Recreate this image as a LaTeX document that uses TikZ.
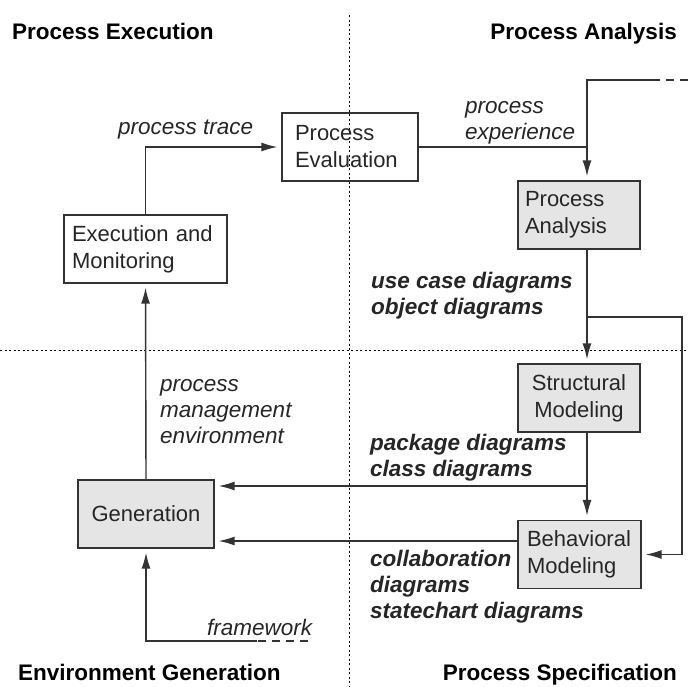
\documentclass[tikz,border=0pt]{standalone}
\usepackage{fontspec}
\setmainfont{Liberation Sans}
\usetikzlibrary{arrows.meta}
\begin{document}
\begin{tikzpicture}[x=1pt,y=-1pt,
  every node/.style={font=\fontsize{22}{27}\selectfont, inner sep=0pt, text=black!85},
  ln/.style={line width=1.4pt, draw=black!80},
  arr/.style={ln, -{Latex[length=16pt,width=9pt]}, shorten >=4pt},
  box/.style={draw=black!80, line width=1.3pt, minimum height=68pt, align=left, inner ysep=0pt},
  grey/.style={fill=black!10},
  sep/.style={line width=0.9pt, dash pattern=on 2pt off 2.5pt},
  stub/.style={ln, dash pattern=on 8pt off 6pt},
  hdr/.style={font=\fontsize{22.5}{27}\selectfont\bfseries, anchor=base west, text=black},
  lab/.style={font=\fontsize{22.5}{26}\selectfont\itshape, align=left, anchor=base west},
  blab/.style={font=\fontsize{22.5}{26}\selectfont\bfseries\itshape, align=left, anchor=base west},
]
\useasboundingbox (0,0) rectangle (688,686);
\fill[white] (0,0) rectangle (688,686);

% quadrant separators
\draw[sep] (349,15) -- (349,686);
\draw[sep] (0,350) -- (688,350);

% boxes
\node[box, inner xsep=13pt, text width=110pt] (pe) at (350,147) {Process\\Evaluation};
\node[box, inner xsep=8pt, text width=147pt] (ex) at (145.5,249) {Execution and\\Monitoring};
\node[box, grey, inner xsep=7pt, text width=108pt] (pa) at (579,215) {Process\\Analysis};
\node[box, grey, inner xsep=7pt, text width=108pt, align=center] (sm) at (579,398) {Structural\\Modeling};
\node[box, grey, inner xsep=9pt, text width=105pt] (bm) at (579.5,554.5) {Behavioral\\Modeling};
\node[box, grey, inner xsep=7pt, text width=122pt, align=center] (gen) at (146,514) {Generation};

% helper coordinates
\coordinate (colx) at (587,0);
\coordinate (rx) at (682,0);
\coordinate (topin) at (657,80);
\coordinate (topend) at (688,80);
\coordinate (br1) at (587,317);
\coordinate (br2) at (587,486);
\coordinate (fw) at (257,641);
\coordinate (fwend) at (308,641);

% connectors
\draw[arr] (ex.north) |- (pe.west);
\draw[arr] (pe.east) -| (pa.north -| colx);
\draw[stub] (topend) -- (topin);
\draw[ln] (topin) -- (topin -| colx) -- (pe.east -| colx);
\draw[arr] (pa.south -| colx) -- (sm.north -| colx);
\draw[arr] (br1) -| (bm.east -| rx) -- (bm.east);
\draw[arr] (sm.south -| colx) -- (bm.north -| colx);
\draw[arr] (br2) -- (br2 -| gen.east);
\draw[arr] ([yshift=13.5pt]bm.west) -- ([yshift=13.5pt]bm.west -| gen.east);
\draw[arr] (gen.north) -- (ex.south);
\draw[stub] (fwend) -- (fw);
\draw[arr] (fw) -| (gen.south);

% labels (base anchor = baseline of last line)
\node[lab] (ptrace) at (118,134) {process trace};
\node[lab] (pexp) at (465,139) {process\\experience};
\node[blab] (uc) at (371,314) {use case diagrams\\object diagrams};
\node[blab] (pkg) at (370,476) {package diagrams\\class diagrams};
\node[blab] (col) at (370,618) {collaboration\\diagrams\\statechart diagrams};
\node[lab] (pme) at (160,443) {process\\management\\environment};
\node[lab] (fwl) at (207,635) {framework};

% quadrant headings
\node[hdr] (h1) at (12,39) {Process Execution};
\node[hdr, anchor=base east] (h2) at (677,39) {Process Analysis};
\node[hdr] (h3) at (18,680) {Environment Generation};
\node[hdr, anchor=base east] (h4) at (677,680) {Process Specification};
\end{tikzpicture}
\end{document}
